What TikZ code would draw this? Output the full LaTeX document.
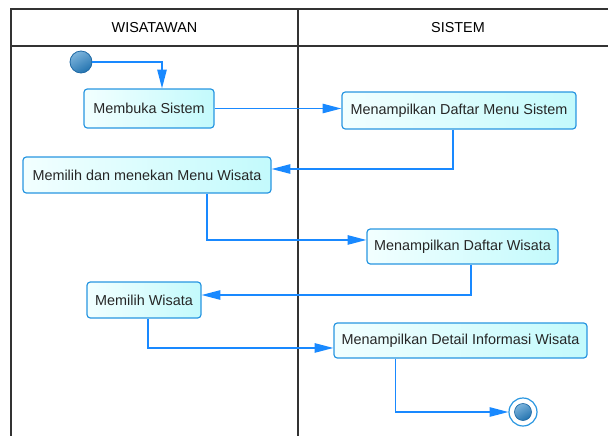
\documentclass[tikz,border=0pt]{standalone}
\usepackage{fontspec}
\setmainfont{Liberation Sans}
\usepackage{xcolor}
\usetikzlibrary{arrows.meta}
\definecolor{garis}{RGB}{25,137,255}
\definecolor{tepi}{RGB}{40,150,225}
\definecolor{isi1}{RGB}{242,255,255}
\definecolor{isi2}{RGB}{195,250,252}
\definecolor{bolaterang}{RGB}{125,180,220}
\definecolor{bola}{RGB}{35,115,175}
\definecolor{bolatepi}{RGB}{30,105,165}

\begin{document}
\begin{tikzpicture}[x=0.75pt,y=-0.75pt,
	font=\fontsize{10.8}{12}\selectfont,
	aksi/.style={draw=tepi,line width=0.9pt,rounded corners=2.5pt,left color=isi1,right color=isi2,inner sep=0pt,text=black!85},
	alur/.style={draw=garis,line width=1pt,-{Triangle[length=14pt,width=7pt]}},
	titik/.style={circle,draw=bolatepi,top color=bolaterang,bottom color=bola,shading angle=30,inner sep=0pt},
	lajur/.style={draw=black!80,line width=1.1pt}]
			\useasboundingbox (0,0) rectangle (608,436);
			\draw[lajur] (608,9) -- (11,9) -- (11,436);
			\draw[lajur] (11,46) -- (608,46);
			\draw[lajur] (298,9) -- (298,436);
			\node (wis) at (154.5,27.5) {WISATAWAN};
			\node (sis) at (458,27.5) {SISTEM};
			\node[titik,line width=0.6pt,minimum size=16.5pt] (mulai) at (81,62) {};
			\node[aksi,minimum width=97.5pt,minimum height=29.25pt] (buka) at (149,108.5) {Membuka Sistem};
			\node[aksi,minimum width=175.5pt,minimum height=27.75pt] (menu) at (459,110.5) {Menampilkan Daftar Menu Sistem};
			\node[aksi,minimum width=186pt,minimum height=27pt] (pilih) at (147,175) {Memilih dan menekan Menu Wisata};
			\node[aksi,minimum width=143.25pt,minimum height=26.25pt] (daftar) at (462.5,246.5) {Menampilkan Daftar Wisata};
			\node[aksi,minimum width=85.5pt,minimum height=27pt] (wisata) at (144,300) {Memilih Wisata};
			\node[aksi,minimum width=189.75pt,minimum height=26.25pt] (detail) at (460.5,340.5) {Menampilkan Detail Informasi Wisata};
			\node[circle,draw=tepi,fill=white,line width=0.9pt,minimum size=21pt,inner sep=0pt] (selesai) at (523,412) {};
			\node[titik,line width=0.5pt,minimum size=12.75pt] (inti) at (selesai) {};
			\draw[alur] (mulai.east) -| ([xshift=9.75pt]buka.north);
			\draw[alur] (buka.east) -- (buka.east -| menu.west);
			\draw[alur] ([xshift=-4.5pt]menu.south) |- ([yshift=4.5pt]pilih.east);
			\draw[alur] ([xshift=45pt]pilih.south) |- ([yshift=4.9pt]daftar.west);
			\draw[alur] ([xshift=6.4pt]daftar.south) |- ([yshift=3.75pt]wisata.east);
			\draw[alur] ([xshift=3pt]wisata.south) |- ([yshift=-5.6pt]detail.west);
			\draw[alur] ([xshift=-49pt]detail.south) |- (selesai.west);
		\end{tikzpicture}
\end{document}
